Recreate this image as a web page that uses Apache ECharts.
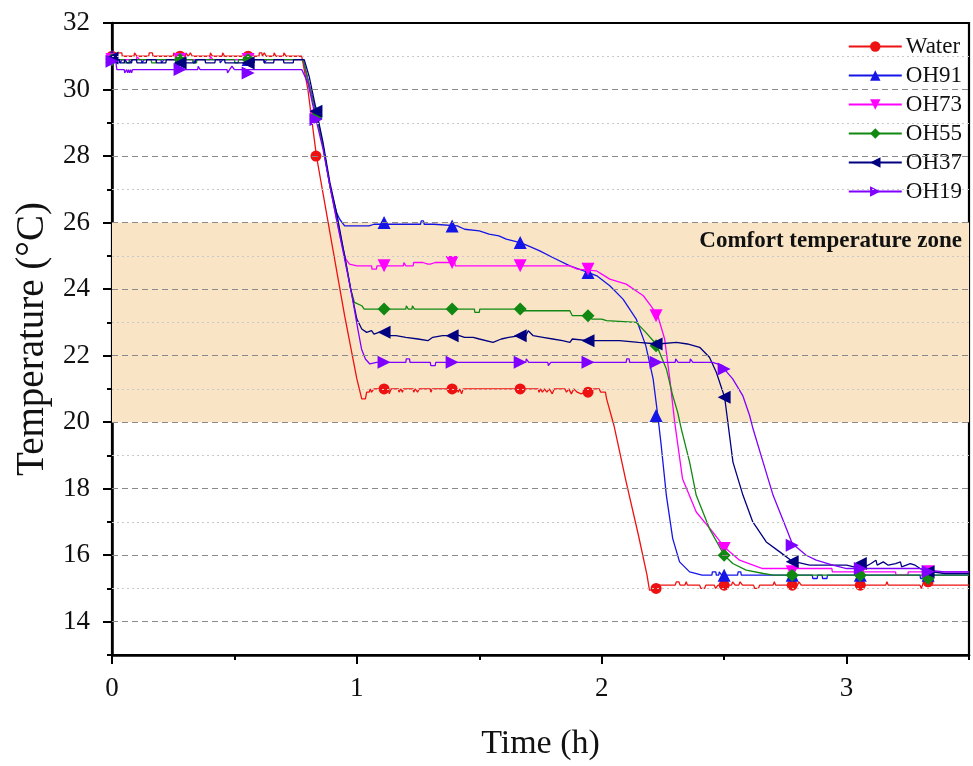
<!DOCTYPE html>
<html><head><meta charset="utf-8">
<script src="https://cdn.jsdelivr.net/npm/echarts@6/dist/echarts.min.js"></script>
<style>html,body{margin:0;padding:0;background:#fff}#c{width:973px;height:766px}</style>
</head><body><div id="c"></div>
<script>
const seriesNames = ['Water','OH91','OH73','OH55','OH37','OH19'];
const xTicks = [0, 0.5, 1, 1.5, 2, 2.5, 3, 3.5];
const xLabels = [0, 1, 2, 3];
const yLabels = [14, 16, 18, 20, 22, 24, 26, 28, 30, 32];
const majorGrid = [14, 16, 18, 20, 22, 24, 26, 28, 30];
const minorGrid = [15, 17, 19, 21, 23, 25, 27, 29, 31];
const comfortZone = [20, 26];
const markerTimes = [0, 0.278, 0.556, 0.833, 1.111, 1.389, 1.667, 1.944, 2.222, 2.5, 2.778, 3.056, 3.333];

const waterMarkers = [31.0,31.0,31.0,28.0,21.0,21.0,21.0,20.9,15.0,15.1,15.1,15.1,15.2];
const oh91Markers  = [31.0,30.9,30.9,29.3,26.0,25.9,25.4,24.5,20.2,15.4,15.4,15.4,15.4];
const oh73Markers  = [30.9,30.9,30.9,29.2,24.7,24.8,24.7,24.6,23.2,16.2,15.5,15.5,15.5];
const oh55Markers  = [30.9,30.9,30.9,29.2,23.4,23.4,23.4,23.2,22.3,16.0,15.4,15.4,15.3];
const oh37Markers  = [30.95,30.8,30.8,29.35,22.7,22.6,22.6,22.45,22.35,20.75,15.8,15.75,15.5];
const oh19Markers  = [30.85,30.6,30.5,29.1,21.8,21.8,21.8,21.8,21.8,21.6,16.3,15.6,15.5];

const waterLine = [[0,31.0],[0.02,31.0],[0.022,31.1],[0.04,31.1],[0.042,31.0],[0.09,31.0],[0.092,31.1],[0.1,31.1],[0.102,31.0],[0.15,31.0],[0.152,31.1],[0.165,31.1],[0.167,31.0],[0.25,31.0],[0.252,31.1],[0.26,31.1],[0.262,31.0],[0.3,31.0],[0.302,31.1],[0.31,31.1],[0.312,31.0],[0.318,31.0],[0.32,31.1],[0.326,31.1],[0.328,31.0],[0.4,31.0],[0.402,31.1],[0.408,31.1],[0.41,31.0],[0.45,31.0],[0.452,31.1],[0.458,31.1],[0.46,31.0],[0.6,31.0],[0.602,31.1],[0.612,31.1],[0.614,31.0],[0.62,31.0],[0.622,31.1],[0.628,31.1],[0.63,31.0],[0.66,31.0],[0.662,31.1],[0.668,31.1],[0.67,31.0],[0.7,31.0],[0.702,31.1],[0.71,31.1],[0.712,31.0],[0.775,31.0],[0.8,30.0],[0.835,28.0],[0.89,25.7],[0.95,23.2],[1.0,21.3],[1.02,20.7],[1.035,20.7],[1.04,20.9],[1.05,20.9],[1.055,21.0],[1.06,20.9],[1.07,21.0],[1.13,21.0],[1.132,20.85],[1.138,20.85],[1.14,21.0],[1.17,21.0],[1.172,20.9],[1.178,20.9],[1.18,21.0],[1.186,20.9],[1.19,21.0],[1.23,21.0],[1.232,20.9],[1.238,21.0],[1.248,20.9],[1.254,21.0],[1.3,21.0],[1.302,20.9],[1.308,21.0],[1.4,21.0],[1.404,20.9],[1.41,21.0],[1.414,20.9],[1.42,21.0],[1.428,20.85],[1.434,21.0],[1.74,21.0],[1.744,20.9],[1.75,21.0],[1.758,20.9],[1.766,21.0],[1.776,20.9],[1.786,21.0],[1.798,20.85],[1.806,21.0],[1.85,21.0],[1.856,20.9],[1.866,21.0],[1.876,20.85],[1.886,21.0],[1.9,20.9],[1.916,20.85],[1.93,20.9],[1.96,20.9],[1.966,21.0],[1.99,21.0],[1.996,20.9],[2.015,20.9],[2.02,20.7],[2.05,19.9],[2.1,18.2],[2.15,16.6],[2.185,15.4],[2.195,14.95],[2.228,14.95],[2.232,15.1],[2.3,15.1],[2.305,15.2],[2.315,15.2],[2.32,15.1],[2.34,15.1],[2.345,15.2],[2.35,15.1],[2.4,15.1],[2.405,15.0],[2.42,15.0],[2.425,15.1],[2.46,15.1],[2.465,15.0],[2.475,15.1],[2.53,15.1],[2.535,15.2],[2.545,15.1],[2.56,15.1],[2.565,15.2],[2.575,15.1],[2.62,15.1],[2.625,15.0],[2.64,15.0],[2.645,15.1],[2.7,15.1],[2.705,15.2],[2.71,15.1],[2.8,15.1],[2.805,15.2],[2.815,15.1],[3.16,15.1],[3.165,15.2],[3.17,15.1],[3.3,15.1],[3.305,15.0],[3.315,15.2],[3.325,15.1],[3.5,15.1]];

const oh91Line = [[0,31.0],[0.008,30.9],[0.03,30.9],[0.032,30.8],[0.04,30.8],[0.042,30.9],[0.07,30.9],[0.072,30.8],[0.08,30.8],[0.082,30.9],[0.12,30.9],[0.122,30.8],[0.13,30.8],[0.132,30.9],[0.2,30.9],[0.202,30.8],[0.21,30.8],[0.212,30.9],[0.33,30.9],[0.332,30.8],[0.34,30.8],[0.342,30.9],[0.44,30.9],[0.442,30.8],[0.45,30.8],[0.452,30.9],[0.62,30.9],[0.622,30.8],[0.63,30.8],[0.632,30.9],[0.78,30.9],[0.8,30.3],[0.835,29.3],[0.862,28.3],[0.89,27.1],[0.917,26.3],[0.93,26.1],[0.95,25.9],[1.05,25.9],[1.07,25.95],[1.11,25.95],[1.15,25.95],[1.26,25.95],[1.263,26.05],[1.272,26.05],[1.275,25.95],[1.315,25.95],[1.318,25.9],[1.41,25.9],[1.412,25.85],[1.44,25.8],[1.5,25.75],[1.54,25.65],[1.58,25.6],[1.61,25.5],[1.667,25.4],[1.7,25.3],[1.747,25.15],[1.8,24.95],[1.87,24.7],[1.944,24.5],[1.98,24.4],[2.033,24.1],[2.087,23.7],[2.141,23.1],[2.18,22.3],[2.21,21.3],[2.229,20.2],[2.243,19.3],[2.264,17.8],[2.29,16.5],[2.318,15.8],[2.359,15.5],[2.41,15.4],[2.45,15.4],[2.452,15.5],[2.466,15.5],[2.468,15.4],[2.478,15.4],[2.48,15.5],[2.488,15.5],[2.49,15.4],[2.555,15.4],[2.557,15.5],[2.568,15.5],[2.57,15.4],[2.86,15.4],[2.862,15.3],[2.88,15.3],[2.882,15.4],[2.9,15.4],[2.902,15.3],[2.92,15.3],[2.922,15.4],[3.3,15.4],[3.302,15.3],[3.34,15.3],[3.342,15.4],[3.5,15.4]];

const oh73Line = [[0,30.9],[0.1,30.9],[0.102,31.0],[0.11,31.0],[0.112,30.9],[0.4,30.9],[0.402,31.0],[0.41,31.0],[0.412,30.9],[0.78,30.9],[0.8,30.3],[0.835,29.2],[0.862,28.3],[0.89,27.1],[0.917,26.1],[0.94,25.3],[0.955,24.9],[0.97,24.75],[1.0,24.7],[1.06,24.7],[1.062,24.6],[1.08,24.6],[1.082,24.7],[1.19,24.7],[1.192,24.8],[1.198,24.8],[1.2,24.7],[1.23,24.7],[1.232,24.8],[1.24,24.85],[1.27,24.8],[1.272,24.75],[1.29,24.75],[1.292,24.8],[1.3,24.75],[1.32,24.8],[1.4,24.8],[1.402,24.7],[1.87,24.7],[1.9,24.6],[1.978,24.55],[2.0,24.45],[2.033,24.3],[2.1,24.15],[2.17,23.8],[2.2,23.5],[2.229,23.2],[2.257,22.5],[2.278,21.3],[2.298,20.0],[2.33,18.3],[2.386,17.3],[2.453,16.7],[2.5,16.25],[2.563,15.85],[2.657,15.6],[2.94,15.6],[2.942,15.5],[3.2,15.5],[3.202,15.4],[3.25,15.4],[3.252,15.5],[3.5,15.5]];

const oh55Line = [[0,30.95],[0.01,30.9],[0.05,30.9],[0.052,30.8],[0.07,30.8],[0.072,30.9],[0.16,30.9],[0.162,30.8],[0.18,30.8],[0.182,30.9],[0.33,30.9],[0.332,30.8],[0.345,30.8],[0.347,30.9],[0.5,30.9],[0.502,30.8],[0.515,30.8],[0.517,30.9],[0.78,30.9],[0.8,30.3],[0.835,29.2],[0.862,28.3],[0.89,27.1],[0.917,26.2],[0.95,25.0],[0.975,24.0],[0.99,23.6],[1.02,23.5],[1.03,23.4],[1.2,23.4],[1.202,23.5],[1.208,23.5],[1.21,23.4],[1.225,23.4],[1.227,23.5],[1.233,23.5],[1.235,23.4],[1.48,23.4],[1.482,23.3],[1.5,23.3],[1.502,23.4],[1.67,23.4],[1.68,23.35],[1.87,23.35],[1.88,23.2],[1.95,23.2],[1.96,23.1],[2.0,23.1],[2.02,23.05],[2.141,23.0],[2.18,22.7],[2.222,22.35],[2.264,21.6],[2.29,20.8],[2.31,20.3],[2.325,19.8],[2.359,18.8],[2.386,17.8],[2.44,16.8],[2.5,16.0],[2.535,15.75],[2.59,15.55],[2.66,15.45],[2.7,15.4],[2.76,15.4],[2.762,15.5],[2.768,15.5],[2.77,15.4],[3.5,15.4]];

const oh37Line = [[0,30.95],[0.01,30.9],[0.03,30.9],[0.032,30.8],[0.05,30.8],[0.052,30.9],[0.06,30.9],[0.062,30.8],[0.08,30.8],[0.082,30.9],[0.1,30.9],[0.102,30.8],[0.14,30.8],[0.142,30.9],[0.18,30.9],[0.182,30.8],[0.22,30.8],[0.222,30.9],[0.26,30.9],[0.262,30.8],[0.34,30.8],[0.342,30.9],[0.38,30.9],[0.382,30.8],[0.42,30.8],[0.422,30.9],[0.46,30.9],[0.462,30.8],[0.58,30.8],[0.582,30.9],[0.62,30.9],[0.622,30.8],[0.66,30.8],[0.662,30.9],[0.7,30.9],[0.702,30.8],[0.74,30.8],[0.742,30.9],[0.785,30.9],[0.805,30.4],[0.835,29.35],[0.862,28.4],[0.89,27.2],[0.917,26.3],[0.95,25.0],[0.975,24.0],[1.0,23.1],[1.02,22.8],[1.04,22.7],[1.06,22.75],[1.07,22.65],[1.09,22.7],[1.111,22.7],[1.12,22.8],[1.13,22.6],[1.16,22.6],[1.2,22.55],[1.25,22.5],[1.29,22.45],[1.31,22.55],[1.35,22.6],[1.389,22.6],[1.4,22.65],[1.44,22.55],[1.475,22.55],[1.5,22.5],[1.556,22.4],[1.59,22.5],[1.62,22.55],[1.667,22.6],[1.675,22.7],[1.69,22.6],[1.7,22.75],[1.72,22.6],[1.76,22.55],[1.8,22.5],[1.84,22.45],[1.87,22.4],[1.88,22.5],[1.944,22.45],[2.0,22.45],[2.073,22.45],[2.15,22.4],[2.229,22.35],[2.305,22.4],[2.35,22.35],[2.4,22.25],[2.44,21.95],[2.468,21.5],[2.502,20.75],[2.536,18.8],[2.577,17.8],[2.617,17.0],[2.672,16.4],[2.727,16.1],[2.778,15.82],[2.849,15.7],[3.0,15.7],[3.03,15.65],[3.05,15.7],[3.07,15.8],[3.075,15.65],[3.1,15.75],[3.12,15.85],[3.125,15.7],[3.15,15.8],[3.17,15.7],[3.2,15.75],[3.22,15.8],[3.225,15.65],[3.26,15.75],[3.28,15.7],[3.3,15.6],[3.35,15.5],[3.4,15.45],[3.5,15.45]];

const oh19Line = [[0,30.85],[0.015,30.85],[0.02,30.6],[0.05,30.6],[0.052,30.5],[0.058,30.5],[0.06,30.6],[0.064,30.5],[0.068,30.6],[0.072,30.5],[0.076,30.6],[0.08,30.5],[0.084,30.6],[0.35,30.6],[0.352,30.7],[0.358,30.7],[0.36,30.6],[0.47,30.6],[0.472,30.5],[0.478,30.5],[0.48,30.6],[0.49,30.7],[0.5,30.6],[0.775,30.6],[0.8,30.2],[0.833,29.1],[0.862,28.2],[0.89,27.1],[0.917,26.1],[0.95,24.9],[0.98,23.8],[1.004,22.8],[1.019,22.2],[1.035,21.9],[1.053,21.75],[1.08,21.8],[1.2,21.8],[1.202,21.9],[1.215,21.9],[1.217,21.8],[1.3,21.8],[1.302,21.7],[1.32,21.7],[1.322,21.8],[1.69,21.8],[1.692,21.9],[1.7,21.9],[1.702,21.8],[1.78,21.8],[1.782,21.7],[1.79,21.7],[1.792,21.8],[2.1,21.8],[2.102,21.9],[2.112,21.9],[2.114,21.8],[2.3,21.8],[2.302,21.9],[2.31,21.9],[2.312,21.8],[2.36,21.8],[2.362,21.9],[2.37,21.9],[2.372,21.8],[2.453,21.8],[2.494,21.7],[2.5,21.6],[2.535,21.3],[2.576,20.8],[2.604,20.2],[2.618,19.8],[2.659,18.8],[2.7,17.8],[2.754,16.8],[2.778,16.35],[2.835,16.0],[2.876,15.85],[2.944,15.7],[3.0,15.6],[3.3,15.6],[3.333,15.55],[3.4,15.5],[3.5,15.5]];

const lines = [waterLine, oh91Line, oh73Line, oh55Line, oh37Line, oh19Line];
const markers = [waterMarkers, oh91Markers, oh73Markers, oh55Markers, oh37Markers, oh19Markers];
const colors = ['#ee1111', '#1515e8', '#ff00ff', '#118811', '#000080', '#8000ff'];
const symbols = ['circle', 'triangle', 'triangle', 'diamond', 'triangle', 'triangle'];
const rotates = [0, 0, 180, 0, 90, -90];
const sizes = [11, 13, 13, 13, 13, 13];

const FONT = 'Liberation Serif';
const series = [];
series.push({
  name: 'zone', type: 'line', data: [], z: 1, silent: true,
  markArea: {
    silent: true,
    itemStyle: { color: '#f9e5c6' },
    label: { show: true, position: 'insideTopRight', distance: 7, formatter: 'Comfort temperature zone',
      fontFamily: FONT, fontWeight: 'bold', fontSize: 23, color: '#111' },
    data: [[{ yAxis: comfortZone[0] }, { yAxis: comfortZone[1] }]]
  },
  markLine: {
    silent: true, symbol: 'none', label: { show: false },
    lineStyle: { color: '#8a8a8a', type: [6, 4], width: 1.2 },
    data: majorGrid.map(v => ({ yAxis: v }))
  }
});
series.push({
  name: 'minor', type: 'line', data: [], z: 1, silent: true,
  markLine: {
    silent: true, symbol: 'none', label: { show: false },
    lineStyle: { color: '#c8c8c8', type: [2, 3], width: 1 },
    data: minorGrid.map(v => ({ yAxis: v }))
  }
});
seriesNames.forEach((n, i) => {
  series.push({
    name: n, type: 'line', data: lines[i], showSymbol: false,
    symbol: symbols[i], symbolRotate: rotates[i], symbolSize: sizes[i],
    lineStyle: { color: colors[i], width: 1.3 }, itemStyle: { color: colors[i] },
    z: 3, animation: false
  });
});
seriesNames.forEach((n, i) => {
  series.push({
    name: 'm-' + n, type: 'scatter',
    data: markerTimes.map((t, k) => [t, markers[i][k]]),
    symbol: symbols[i], symbolRotate: rotates[i], symbolSize: sizes[i],
    itemStyle: { color: colors[i], opacity: 1 }, z: 4, animation: false
  });
});

const chart = echarts.init(document.getElementById('c'));
chart.setOption({
  animation: false,
  backgroundColor: '#fff',
  grid: { left: 112, right: 4, top: 23, bottom: 109, show: true, borderColor: '#000', borderWidth: 2.2, backgroundColor: 'transparent' },
  legend: {
    data: seriesNames, orient: 'vertical', right: 6, top: 30,
    itemWidth: 53, itemHeight: 13, itemGap: 6,
    textStyle: { fontFamily: FONT, fontSize: 23, color: '#111', lineHeight: 23, padding: [0, 0, 0, -1] }
  },
  xAxis: [
    { type: 'value', min: 0, max: 3.5, interval: 0.5, position: 'bottom',
      axisLine: { lineStyle: { color: '#000', width: 2.5 } },
      axisTick: { length: 5, lineStyle: { width: 2, color: '#000' } },
      axisLabel: { show: false }, splitLine: { show: false } },
    { type: 'value', min: 0, max: 3.5, position: 'bottom',
      axisLine: { show: false },
      axisTick: { show: true, customValues: xLabels, length: 9, lineStyle: { width: 2, color: '#000' } },
      axisLabel: { show: true, customValues: xLabels, fontFamily: FONT, fontSize: 27, color: '#111', margin: 20 },
      splitLine: { show: false },
      name: 'Time (h)', nameLocation: 'middle', nameGap: 72,
      nameTextStyle: { fontFamily: FONT, fontSize: 34, color: '#111' } }
  ],
  yAxis: [
    { type: 'value', min: 13, max: 32, interval: 1, position: 'left',
      axisLine: { lineStyle: { color: '#000', width: 2.5 } },
      axisTick: { length: 5, lineStyle: { width: 2, color: '#000' } },
      axisLabel: { show: false }, splitLine: { show: false } },
    { type: 'value', min: 13, max: 32, position: 'left',
      axisLine: { show: false },
      axisTick: { show: true, customValues: yLabels, length: 9, lineStyle: { width: 2, color: '#000' } },
      axisLabel: { show: true, customValues: yLabels, fontFamily: FONT, fontSize: 27, color: '#111', margin: 22 },
      splitLine: { show: false },
      name: 'Temperature (°C)', nameLocation: 'middle', nameGap: 60,
      nameTextStyle: { fontFamily: FONT, fontSize: 39, color: '#111' } }
  ],
  series: series
});
</script>
</body></html>
